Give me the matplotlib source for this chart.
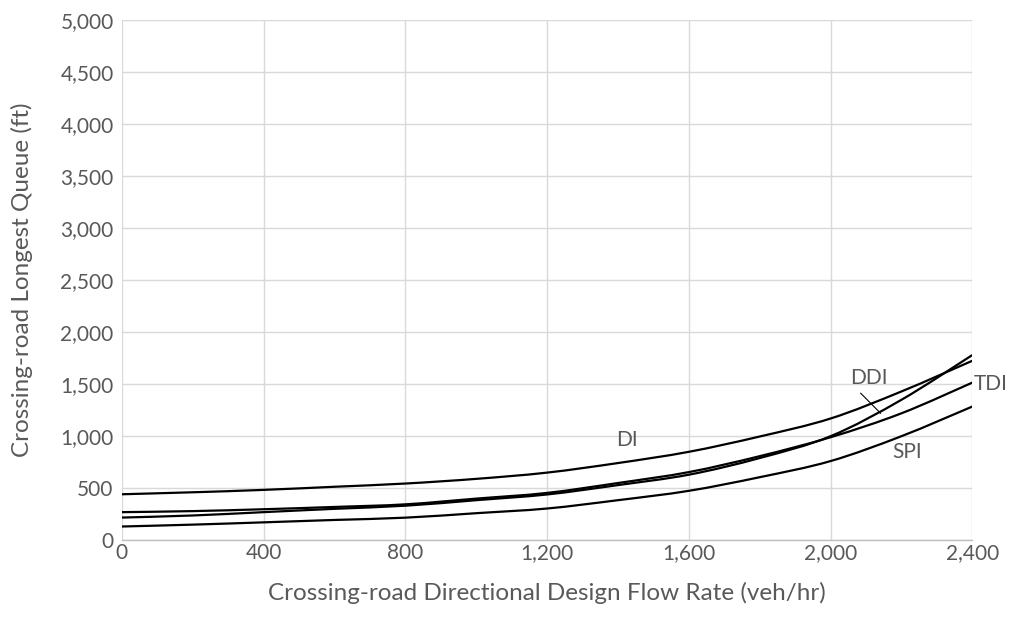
import numpy as np
import matplotlib
matplotlib.use("Agg")
import matplotlib.pyplot as plt
from matplotlib.path import Path
from matplotlib.patches import PathPatch

plt.rcParams['font.family'] = ['Lato', 'DejaVu Sans']

# flow rate (veh/hr) and longest queue (ft)
flow = [0, 200, 400, 600, 800, 1000, 1200, 1400, 1600, 1800, 2000, 2200, 2400]
di = [442, 461, 484, 514, 545, 590, 650, 742, 850, 997, 1170, 1430, 1725]
ddi = [218, 238, 270, 302, 332, 385, 440, 530, 630, 790, 1000, 1350, 1780]
tdi = [270, 280, 298, 320, 345, 400, 455, 550, 655, 808, 990, 1220, 1515]
spi = [132, 150, 172, 195, 217, 260, 305, 385, 475, 606, 761, 1000, 1285]

TEXT = '#595959'
GRID = '#d9d9d9'


# smooth line like Excel: Catmull-Rom turned into cubic bezier segments
def smooth_path(x, y):
    x = np.asarray(x, float)
    y = np.asarray(y, float)
    verts = [(x[0], y[0])]
    codes = [Path.MOVETO]
    n = len(x)
    for i in range(n - 1):
        x0, y0 = (x[i - 1], y[i - 1]) if i > 0 else (x[i], y[i])
        x3, y3 = (x[i + 2], y[i + 2]) if i + 2 < n else (x[i + 1], y[i + 1])
        c1 = (x[i] + (x[i + 1] - x0) / 6, y[i] + (y[i + 1] - y0) / 6)
        c2 = (x[i + 1] - (x3 - x[i]) / 6, y[i + 1] - (y3 - y[i]) / 6)
        verts += [c1, c2, (x[i + 1], y[i + 1])]
        codes += [Path.CURVE4] * 3
    return Path(verts, codes)


fig = plt.figure(figsize=(10.16, 6.26), dpi=100)
ax = fig.add_axes([0.120, 0.137, 0.837, 0.831])

for series in (di, ddi, tdi, spi):
    ax.add_patch(PathPatch(smooth_path(flow, series), fill=False,
                           edgecolor='black', lw=1.6, zorder=3))

ax.set_xlim(0, 2400)
ax.set_ylim(0, 5000)
ax.set_xticks(np.arange(0, 2401, 400))
ax.set_yticks(np.arange(0, 5001, 500))
ax.xaxis.set_major_formatter(matplotlib.ticker.StrMethodFormatter('{x:,.0f}'))
ax.yaxis.set_major_formatter(matplotlib.ticker.StrMethodFormatter('{x:,.0f}'))
ax.grid(True, color=GRID, lw=1.0)
ax.set_axisbelow(True)
for side in ('top', 'right', 'left'):
    ax.spines[side].set_visible(False)
ax.spines['bottom'].set_color('#bfbfbf')
ax.spines['bottom'].set_linewidth(1.0)
ax.tick_params(length=0, labelsize=15, colors=TEXT)
ax.tick_params(axis='x', pad=2)
ax.tick_params(axis='y', pad=6)

ax.set_xlabel('Crossing-road Directional Design Flow Rate (veh/hr)',
              fontsize=17.5, color=TEXT)
ax.set_ylabel('Crossing-road Longest Queue (ft)', fontsize=17.5, color=TEXT)
ax.xaxis.set_label_coords(0.5, -0.08)
ax.yaxis.set_label_coords(-0.105, 0.5)

# curve labels
lab = dict(fontsize=15, color=TEXT, ha='center', va='center')
ax.text(1424, 962, 'DI', **lab)
ax.text(2107, 1558, 'DDI', **lab)
ax.text(2217, 846, 'SPI', **lab)
ax.text(2452, 1500, 'TDI', clip_on=False, **lab)
ax.plot([2085, 2141], [1413, 1221], color='black', lw=0.8, zorder=4)

fig.savefig('out.png', dpi=100)
